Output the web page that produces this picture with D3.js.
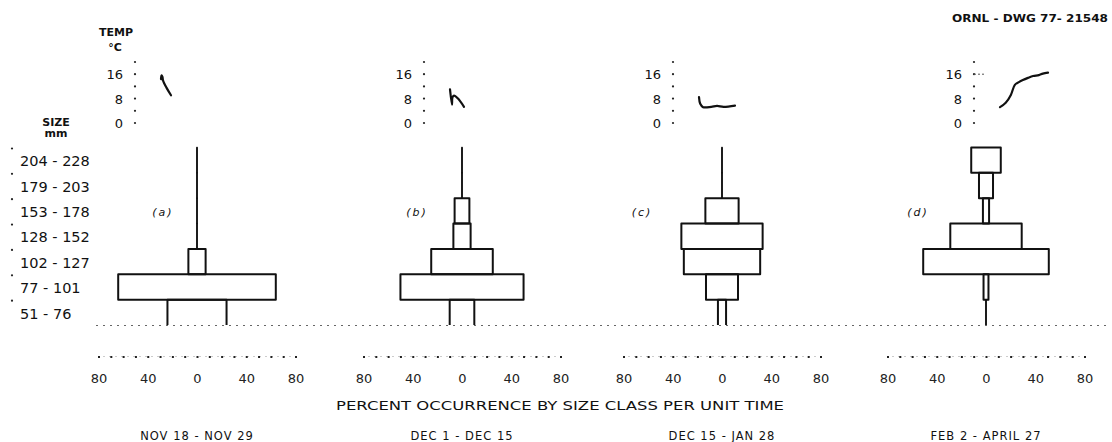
<!DOCTYPE html>
<html>
<head>
<meta charset="utf-8">
<script src="https://cdn.jsdelivr.net/npm/d3@7"></script>
<style>
  body { margin: 0; background: #fff; }
  svg { display: block; font-family: "DejaVu Sans", sans-serif; }
  text { fill: #111; }
</style>
</head>
<body>
<svg id="chart" width="1112" height="442"></svg>
<script>
// size classes, top to bottom (mm)
var sizeClasses = ['204 - 228', '179 - 203', '153 - 178', '128 - 152', '102 - 127', '77 - 101', '51 - 76'];

// percent occurrence per size class (half width of the kite), one array per period
var pctNov = [0.2, 0.2, 0.2, 0.2, 7, 64, 24];
var pctDec = [0.2, 0.2, 6, 7, 25, 50, 10];
var pctDecJan = [0.2, 0.2, 13.5, 33, 31, 13, 3.3];
var pctFebApr = [12, 5.7, 2.5, 29, 51, 2, 0.2];

// water temperature, [day of period, degC]
var tempNov = [[0, 14.4], [0.6, 15.6], [1.6, 15.1], [2.2, 14.0], [6, 11.6], [11, 9.1]];
var tempDec = [[0, 11], [2, 6], [2.4, 8.3], [4, 9], [8, 8], [14, 5.3]];
var tempDecJan = [[0, 8.5], [1.5, 6.3], [5, 5.2], [15, 5.3], [22, 5.6], [30, 5.3], [44, 5.7]];
var tempFebApr = [[0, 5.2], [10, 6.6], [19, 9.2], [26, 12.5], [33, 13.4], [40, 14.1], [49, 14.8],
                  [58, 15.4], [68, 15.7], [75, 16.2], [84, 16.5]];

var periods = ['NOV 18 - NOV 29', 'DEC 1 - DEC 15', 'DEC 15 - JAN 28', 'FEB 2 - APRIL 27'];
var periodDays = [11, 14, 44, 84];
var panelTags = ['(a)', '(b)', '(c)', '(d)'];
var pctTicks = [-80, -40, 0, 40, 80];
var tempTicks = [0, 8, 16];

var pctSeries = [pctNov, pctDec, pctDecJan, pctFebApr];
var tempSeries = [tempNov, tempDec, tempDecJan, tempFebApr];

// layout
var centers = [197, 462, 722, 986];
var insetX = [135, 424, 673, 974];
var curveLen = [10, 14, 36, 48];
var tagOffset = [-34, -45, -80, -68];
var halfSpan = 98.5;   // px for 80 percent

var svg = d3.select('#chart');

var y = d3.scaleBand()
  .domain(sizeClasses)
  .range([147.5, 325]);

var tY = d3.scaleLinear()
  .domain([0, 20])
  .range([123, 62]);

// size class labels and dots
svg.append('g')
  .selectAll('text')
  .data(sizeClasses)
  .enter()
  .append('text')
  .attr('x', 20)
  .attr('y', function(d) { return y(d) + y.bandwidth() / 2 + 1; })
  .attr('dy', '0.36em')
  .style('font-size', '14.5px')
  .text(function(d) { return d; });

svg.append('g')
  .selectAll('circle')
  .data(sizeClasses)
  .enter()
  .append('circle')
  .attr('cx', 12)
  .attr('cy', function(d) { return y(d) + 1; })
  .attr('r', 1.1)
  .style('fill', '#222');

svg.append('text').attr('x', 56).attr('y', 126).attr('text-anchor', 'middle')
  .style('font-size', '11px').style('font-weight', 'bold').text('SIZE');
svg.append('text').attr('x', 56).attr('y', 137).attr('text-anchor', 'middle')
  .style('font-size', '11px').style('font-weight', 'bold').text('mm');

svg.append('text').attr('x', 116).attr('y', 36).attr('text-anchor', 'middle')
  .style('font-size', '11px').style('font-weight', 'bold').text('TEMP');
svg.append('text').attr('x', 115).attr('y', 51).attr('text-anchor', 'middle')
  .style('font-size', '11px').style('font-weight', 'bold').text('°C');

svg.append('text').attr('x', 1108).attr('y', 22).attr('text-anchor', 'end')
  .attr('textLength', 156).attr('lengthAdjust', 'spacingAndGlyphs')
  .style('font-size', '11px').style('font-weight', '600').text('ORNL - DWG 77- 21548');

// dotted base line under the kites
svg.append('line')
  .attr('x1', 96).attr('x2', 1110)
  .attr('y1', 325.5).attr('y2', 325.5)
  .style('stroke', '#666')
  .style('stroke-width', 1)
  .style('stroke-dasharray', '2,5');

var line = d3.line()
  .x(function(d) { return d[0]; })
  .y(function(d) { return d[1]; })
  .curve(d3.curveCatmullRom);

periods.forEach(function(period, p) {
  var cx = centers[p];
  var x = d3.scaleLinear()
    .domain([-80, 80])
    .range([cx - halfSpan, cx + halfSpan]);
  var g = svg.append('g').attr('class', 'panel');

  // kite
  var vals = pctSeries[p];
  g.selectAll('.kite')
    .data(vals)
    .enter()
    .append('path')
    .attr('class', 'kite')
    .attr('d', function(v, i) {
      var x0 = x(-v), x1 = x(v);
      var y0 = y(sizeClasses[i]), y1 = y0 + y.bandwidth();
      if (i === vals.length - 1) {
        return 'M' + x0 + ',' + y1 + 'L' + x0 + ',' + y0 + 'L' + x1 + ',' + y0 + 'L' + x1 + ',' + y1;
      }
      return 'M' + x0 + ',' + y0 + 'L' + x1 + ',' + y0 + 'L' + x1 + ',' + y1 + 'L' + x0 + ',' + y1 + 'Z';
    })
    .style('fill', 'none')
    .style('stroke', '#111')
    .style('stroke-width', function(v) { return v < 1 ? 1.4 : 2; })
    .style('stroke-linejoin', 'round');

  g.append('text')
    .attr('x', cx + tagOffset[p])
    .attr('y', 216)
    .attr('text-anchor', 'middle')
    .style('font-size', '11px')
    .style('font-style', 'italic')
    .style('letter-spacing', '2px')
    .text(panelTags[p]);

  // percent axis
  var axis = d3.axisBottom(x)
    .tickValues(d3.range(-80, 81, 10))
    .tickSize(2)
    .tickPadding(16)
    .tickFormat(function(d) { return pctTicks.indexOf(d) >= 0 ? Math.abs(d) : ''; });

  var ag = g.append('g')
    .attr('transform', 'translate(0,356)')
    .call(axis);
  ag.select('.domain')
    .style('stroke', '#999')
    .style('stroke-dasharray', '1,5');
  ag.selectAll('.tick line')
    .style('stroke', '#222')
    .style('stroke-width', 2);
  ag.selectAll('.tick text')
    .style('font-size', '13px')
    .style('font-family', '"DejaVu Sans", sans-serif')
    .style('fill', '#222');

  g.append('text')
    .attr('x', cx)
    .attr('y', 440)
    .attr('text-anchor', 'middle')
    .style('font-size', '11.5px')
    .style('letter-spacing', '1px')
    .text(period);

  // temperature inset
  var ax = insetX[p];
  g.selectAll('.tdot')
    .data(d3.range(0, 21, 4))
    .enter()
    .append('circle')
    .attr('class', 'tdot')
    .attr('cx', ax)
    .attr('cy', function(d) { return tY(d); })
    .attr('r', 1.1)
    .style('fill', '#222');

  g.selectAll('.tlab')
    .data(tempTicks)
    .enter()
    .append('text')
    .attr('class', 'tlab')
    .attr('x', ax - 12)
    .attr('y', function(d) { return tY(d); })
    .attr('dy', '0.38em')
    .attr('text-anchor', 'end')
    .style('font-size', '13px')
    .text(function(d) { return d; });

  var tx = d3.scaleLinear()
    .domain([0, periodDays[p]])
    .range([ax + 26, ax + 26 + curveLen[p]]);

  g.append('path')
    .datum(tempSeries[p])
    .attr('d', line.x(function(d) { return tx(d[0]); }).y(function(d) { return tY(d[1]); }))
    .style('fill', 'none')
    .style('stroke', '#111')
    .style('stroke-width', 2.2)
    .style('stroke-linecap', 'round');
});

// short reference tick at 16 degC on the last inset
svg.append('line')
  .attr('x1', insetX[3]).attr('x2', insetX[3] + 10)
  .attr('y1', tY(16)).attr('y2', tY(16))
  .style('stroke', '#555')
  .style('stroke-dasharray', '2,2');

svg.append('text')
  .attr('x', 560)
  .attr('y', 410)
  .attr('text-anchor', 'middle')
  .attr('textLength', 448)
  .attr('lengthAdjust', 'spacingAndGlyphs')
  .style('font-size', '12.5px')
  .text('PERCENT OCCURRENCE BY SIZE CLASS PER UNIT TIME');
</script>
</body>
</html>
